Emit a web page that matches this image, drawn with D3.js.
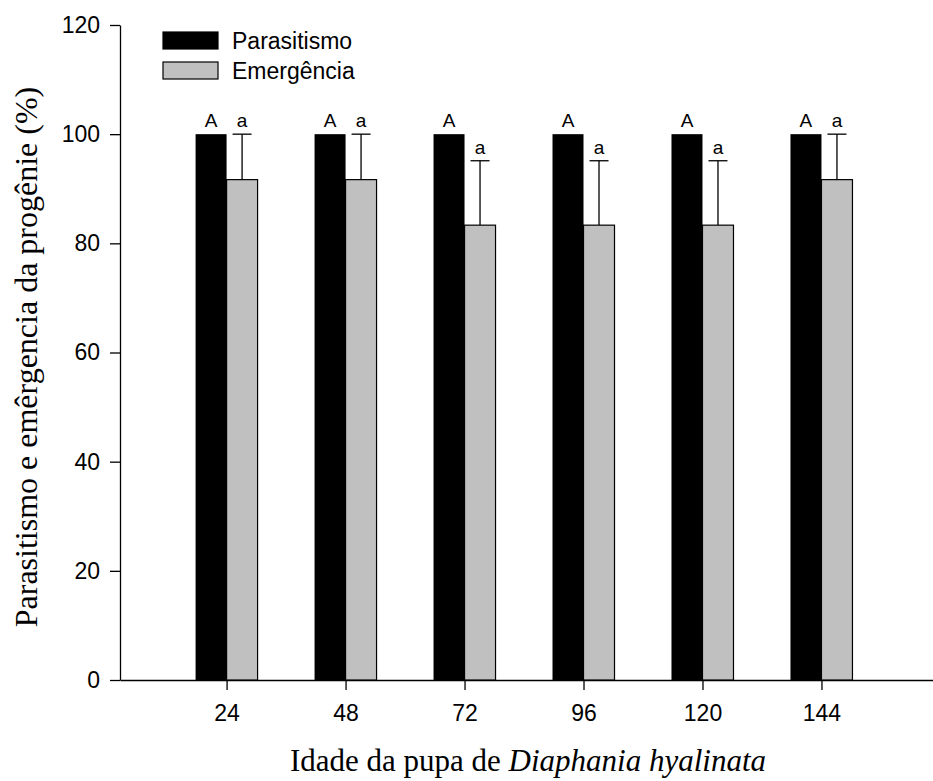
<!DOCTYPE html>
<html>
<head>
<meta charset="utf-8">
<script src="https://cdn.jsdelivr.net/npm/d3@7"></script>
<style>
  body { margin: 0; background: #fff; }
</style>
</head>
<body>
<div id="chart"></div>
<script>
// Data
const ages = [24, 48, 72, 96, 120, 144];
const parasitismo = [100, 100, 100, 100, 100, 100];
const emergencia = [91.67, 91.67, 83.33, 83.33, 83.33, 91.67];
const emergenciaErr = [8.33, 8.33, 11.8, 11.8, 11.8, 8.33];
const letrasPar = ["A", "A", "A", "A", "A", "A"];
const letrasEme = ["a", "a", "a", "a", "a", "a"];
const yTicks = [0, 20, 40, 60, 80, 100, 120];

const width = 933;
const height = 781;
const barWidth = 31;
const sans = "'Liberation Sans', Arial, sans-serif";
const serif = "'Liberation Serif', 'Times New Roman', serif";

const svg = d3.select("#chart").append("svg")
    .attr("width", width)
    .attr("height", height);

const x = d3.scaleLinear().domain([2.5, 166.5]).range([120, 933]);
const y = d3.scaleLinear().domain([0, 120]).range([680, 25]);

// Axes
const yAxis = svg.append("g")
    .attr("transform", "translate(120,0)")
    .call(d3.axisLeft(y).tickValues(yTicks).tickSize(10).tickPadding(10).tickSizeOuter(0));

const xAxis = svg.append("g")
    .attr("transform", "translate(0,680)")
    .call(d3.axisBottom(x).tickValues(ages).tickSize(10).tickPadding(15).tickSizeOuter(0));

[xAxis, yAxis].forEach(g => {
    g.selectAll("path, line").attr("stroke", "#000").attr("stroke-width", 1.3);
    g.selectAll("text")
        .attr("fill", "#000")
        .style("font-family", sans)
        .style("font-size", "23px");
});

// Bars
svg.selectAll("rect.par")
    .data(ages)
    .enter()
    .append("rect")
    .attr("class", "par")
    .attr("x", d => x(d) - barWidth)
    .attr("y", (d, i) => y(parasitismo[i]))
    .attr("width", barWidth)
    .attr("height", (d, i) => y(0) - y(parasitismo[i]))
    .attr("fill", "#000");

// Error bars (drawn before the grey bars, only the upper half shows)
const errG = svg.append("g").attr("stroke", "#000").attr("stroke-width", 1.3);
ages.forEach((d, i) => {
    const cx = x(d) + barWidth / 2;
    const top = y(emergencia[i] + emergenciaErr[i]);
    errG.append("line")
        .attr("x1", cx).attr("x2", cx)
        .attr("y1", y(emergencia[i])).attr("y2", top);
    errG.append("line")
        .attr("x1", cx - 9.5).attr("x2", cx + 9.5)
        .attr("y1", top).attr("y2", top);
});

svg.selectAll("rect.eme")
    .data(ages)
    .enter()
    .append("rect")
    .attr("class", "eme")
    .attr("x", d => x(d))
    .attr("y", (d, i) => y(emergencia[i]))
    .attr("width", barWidth)
    .attr("height", (d, i) => y(0) - y(emergencia[i]))
    .attr("fill", "#c0c0c0")
    .attr("stroke", "#000")
    .attr("stroke-width", 1.2);

// Letters above bars
svg.selectAll("text.lp")
    .data(ages)
    .enter()
    .append("text")
    .attr("x", d => x(d) - barWidth / 2)
    .attr("y", (d, i) => y(parasitismo[i]) - 7)
    .attr("text-anchor", "middle")
    .style("font-family", sans)
    .style("font-size", "19px")
    .text((d, i) => letrasPar[i]);

svg.selectAll("text.le")
    .data(ages)
    .enter()
    .append("text")
    .attr("x", d => x(d) + barWidth / 2)
    .attr("y", (d, i) => y(emergencia[i] + emergenciaErr[i]) - 7)
    .attr("text-anchor", "middle")
    .style("font-family", sans)
    .style("font-size", "19px")
    .text((d, i) => letrasEme[i]);

// Legend
const legend = [
    { label: "Parasitismo", fill: "#000" },
    { label: "Emergência", fill: "#c0c0c0" }
];
const lg = svg.append("g").attr("transform", "translate(163,32)");
legend.forEach((l, i) => {
    lg.append("rect")
        .attr("x", 0).attr("y", i * 30)
        .attr("width", 55).attr("height", 17)
        .attr("fill", l.fill)
        .attr("stroke", "#000")
        .attr("stroke-width", 1.2);
    lg.append("text")
        .attr("x", 69).attr("y", i * 30 + 17)
        .style("font-family", sans)
        .style("font-size", "23px")
        .text(l.label);
});

// Axis titles
svg.append("text")
    .attr("transform", "translate(37,357) rotate(-90)")
    .attr("text-anchor", "middle")
    .style("font-family", serif)
    .style("font-size", "32px")
    .text("Parasitismo e emêrgencia da progênie (%)");

const xt = svg.append("text")
    .attr("x", 528)
    .attr("y", 771)
    .attr("text-anchor", "middle")
    .style("font-family", serif)
    .style("font-size", "31px");
xt.append("tspan").text("Idade da pupa de ");
xt.append("tspan").style("font-style", "italic").text("Diaphania hyalinata");
</script>
</body>
</html>
